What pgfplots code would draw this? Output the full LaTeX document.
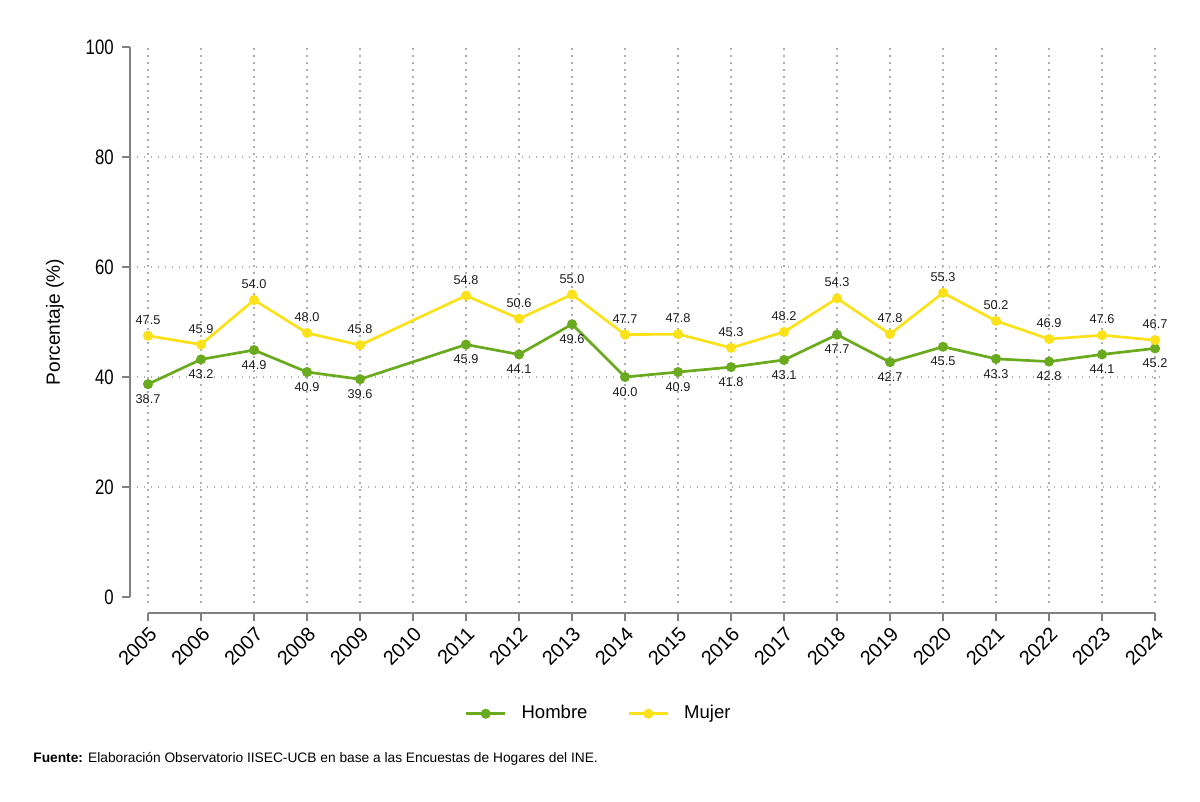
\documentclass[border=0pt]{standalone}
\usepackage{fontspec}
\setmainfont{Liberation Sans}
\newfontfamily\narrowfont[FakeStretch=0.8]{Liberation Sans}
\usepackage{pgfplots}
\pgfplotsset{compat=1.18}
\definecolor{hgreen}{RGB}{106,170,30}
\definecolor{myellow}{RGB}{250,225,25}
\definecolor{axgray}{RGB}{128,128,128}
\definecolor{gridgray}{RGB}{175,175,175}
\definecolor{lbl}{RGB}{30,30,30}
\begin{document}
\begin{tikzpicture}[x=1bp,y=1bp]
\useasboundingbox (0,0) rectangle (600,400.5);
\begin{axis}[
  at={(65bp,94bp)}, anchor=south west,
  scale only axis, width=515bp, height=283bp,
  xmin=2004.66, xmax=2024.094, ymin=-2.909, ymax=100,
  clip=false,
  axis line style={draw=none},
  xtick={2005,...,2024}, ytick={0,20,...,100},
  xtick pos=bottom, ytick pos=left,
  tick align=outside, major tick length=4bp,
  tick style={axgray, line width=1bp},
  /pgf/number format/assume math mode=true,
  xticklabel style={rotate=45, anchor=north east, font=\fontsize{10}{12}\selectfont, inner sep=1.5bp, /pgf/number format/1000 sep={}},
  yticklabel style={font=\narrowfont\fontsize{10.5}{12}\selectfont, inner sep=4bp},
  legend style={at={(0.456,-0.178)}, anchor=center, draw=none, legend columns=2,
    font=\fontsize{9.3}{11}\selectfont,
    /tikz/every even column/.append style={column sep=18bp}},
  legend image code/.code={\draw[mark repeat=2,mark phase=2] plot coordinates {(0bp,0bp) (9.75bp,0bp) (19.5bp,0bp)}; \path (25bp,0bp);},
]
\pgfplotsinvokeforeach{2005,...,2024}{\draw[gridgray, line width=0.65bp, dash pattern=on 0.65bp off 2.85bp] (axis cs:#1,-1) -- (axis cs:#1,100);}
\pgfplotsinvokeforeach{20,40,60,80}{\draw[gridgray, line width=0.65bp, dash pattern=on 0.65bp off 2.85bp] (axis cs:2004.66,#1) -- (axis cs:2024.094,#1);}
\draw[axgray, line width=1bp] (axis cs:2004.66,0) -- (axis cs:2004.66,100);
\draw[axgray, line width=1bp] (axis cs:2005,-2.909) -- (axis cs:2024,-2.909);
\addplot[hgreen, line width=1.35bp, mark=*, mark size=1.8bp,
  nodes near coords={\pgfmathprintnumber[fixed,fixed zerofill,precision=1]{\pgfplotspointmeta}},
  point meta=y,
  every node near coord/.append style={anchor=north, yshift=-4.5bp, font=\fontsize{6.4}{7}\selectfont, text=lbl, inner sep=0pt}]
coordinates {(2005,38.7) (2006,43.2) (2007,44.9) (2008,40.9) (2009,39.6) (2011,45.9) (2012,44.1) (2013,49.6) (2014,40.0) (2015,40.9) (2016,41.8) (2017,43.1) (2018,47.7) (2019,42.7) (2020,45.5) (2021,43.3) (2022,42.8) (2023,44.1) (2024,45.2)};
\addlegendentry{Hombre}
\addplot[myellow, line width=1.35bp, mark=*, mark size=1.8bp,
  nodes near coords={\pgfmathprintnumber[fixed,fixed zerofill,precision=1]{\pgfplotspointmeta}},
  point meta=y,
  every node near coord/.append style={anchor=south, yshift=5bp, font=\fontsize{6.4}{7}\selectfont, text=lbl, inner sep=0pt}]
coordinates {(2005,47.5) (2006,45.9) (2007,54.0) (2008,48.0) (2009,45.8) (2011,54.8) (2012,50.6) (2013,55.0) (2014,47.7) (2015,47.8) (2016,45.3) (2017,48.2) (2018,54.3) (2019,47.8) (2020,55.3) (2021,50.2) (2022,46.9) (2023,47.6) (2024,46.7)};
\addlegendentry{Mujer}
\end{axis}
\node[rotate=90, font=\fontsize{9.6}{11}\selectfont] at (27.5,239.5) {Porcentaje (\%)};
\node[anchor=west, font=\fontsize{6.9}{8}\selectfont, inner sep=0pt] at (16.5,21) {\textbf{Fuente:} Elaboración Observatorio IISEC-UCB en base a las Encuestas de Hogares del INE.};
\end{tikzpicture}
\end{document}
